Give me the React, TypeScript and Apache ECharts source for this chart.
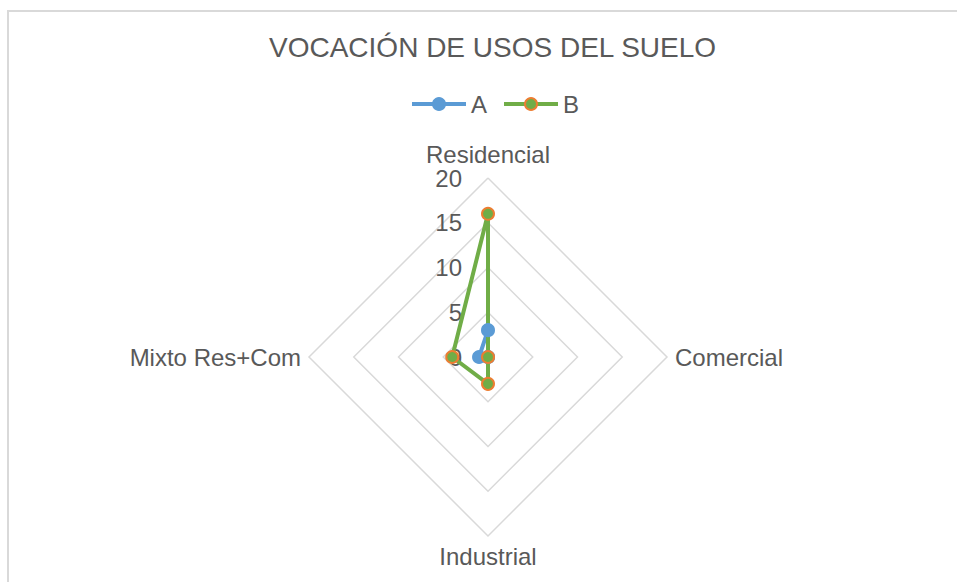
import React, { useEffect, useRef } from "react";
import * as echarts from "echarts";

const titleText = "VOCACIÓN DE USOS DEL SUELO";
// indicator order as ECharts lays them out (counter-clockwise from top)
const categories = ["Residencial", "Mixto Res+Com", "Industrial", "Comercial"];
const seriesNames = ["A", "B"];
const valuesA = [3, 1, 0, 0];
const valuesB = [16, 4, 3, 0];
const axisMax = 20;
const axisSplits = 4;

const TEXT = "#595959";
const GRID = "#D9D9D9";
const BLUE = "#5B9BD5";
const GREEN = "#70AD47";
const ORANGE = "#ED7D31";
const FONT = "'Liberation Sans', Arial, sans-serif";

export default function App() {
  const ref = useRef<HTMLDivElement>(null);
  useEffect(() => {
    if (!ref.current) return;
    const chart = echarts.init(ref.current, undefined, { renderer: "svg" });
    const styleA = {
      lineStyle: { color: BLUE, width: 4 },
      itemStyle: { color: BLUE, borderColor: BLUE, borderWidth: 2 },
    };
    const styleB = {
      lineStyle: { color: GREEN, width: 4 },
      itemStyle: { color: GREEN, borderColor: ORANGE, borderWidth: 2 },
    };
    chart.setOption({
      animation: false,
      backgroundColor: "#ffffff",
      textStyle: { fontFamily: FONT },
      title: {
        text: titleText,
        left: 264,
        top: 28,
        textStyle: { fontSize: 28, fontWeight: "normal", color: TEXT, fontFamily: FONT },
      },
      legend: {
        left: 405,
        top: 87,
        itemWidth: 54,
        itemHeight: 15,
        itemGap: 15,
        data: [
          { name: seriesNames[0], lineStyle: { width: 4, color: BLUE } },
          { name: seriesNames[1], lineStyle: { width: 4, color: GREEN } },
        ],
        textStyle: { fontSize: 24, color: TEXT, fontFamily: FONT },
      },
      grid: { left: -200, top: -200, width: 10, height: 10, show: false },
      xAxis: { type: "category", show: false, data: [] },
      yAxis: { type: "value", show: false },
      graphic: [
        {
          type: "rect",
          shape: { x: 8, y: 11, width: 1400, height: 1000 },
          style: { fill: "none", stroke: GRID, lineWidth: 2 },
          silent: true,
          z: -10,
        },
      ],
      radar: {
        center: [488, 357],
        radius: 179,
        startAngle: 90,
        shape: "polygon",
        splitNumber: axisSplits,
        indicator: categories.map((name, i) =>
          i === 0
            ? { name, min: 0, max: axisMax, axisLabel: { show: true } }
            : { name, min: 0, max: axisMax }
        ),
        axisName: { color: TEXT, fontSize: 24, fontFamily: FONT },
        nameGap: 8,
        axisLine: { show: false },
        axisTick: { show: false },
        axisLabel: { show: false, color: TEXT, fontSize: 24, fontFamily: FONT, margin: 26 },
        splitLine: { lineStyle: { color: GRID, width: 1.5 } },
        splitArea: { show: false },
      },
      series: [
        { type: "line", name: seriesNames[0], data: [], symbol: "circle", ...styleA },
        { type: "line", name: seriesNames[1], data: [], symbol: "circle", ...styleB },
        {
          type: "radar",
          name: seriesNames[0],
          symbol: "circle",
          symbolSize: 12,
          ...styleA,
          emphasis: { disabled: true },
          data: [{ name: seriesNames[0], value: valuesA }],
        },
        {
          type: "radar",
          name: seriesNames[1],
          symbol: "circle",
          symbolSize: 12,
          ...styleB,
          emphasis: { disabled: true },
          data: [{ name: seriesNames[1], value: valuesB }],
        },
      ],
    });
    return () => chart.dispose();
  }, []);
  return (
    <div
      ref={ref}
      style={{ position: "absolute", left: 0, top: 0, width: 957, height: 582 }}
    />
  );
}
